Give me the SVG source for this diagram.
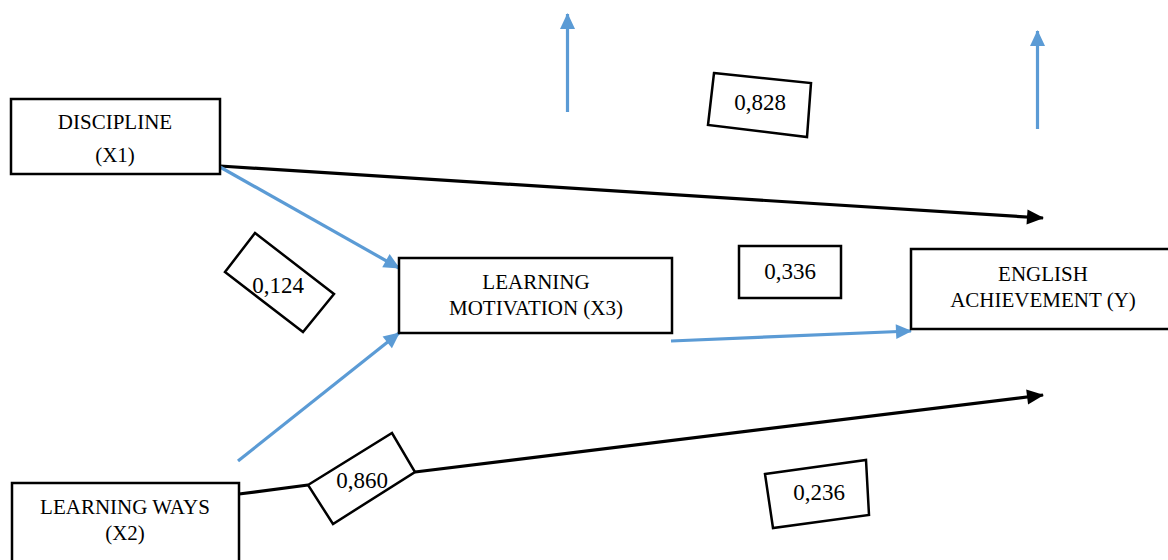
<svg xmlns="http://www.w3.org/2000/svg" width="1168" height="560" viewBox="0 0 1168 560">
<defs>
<marker id="ab" markerUnits="userSpaceOnUse" markerWidth="17" markerHeight="16" refX="15" refY="7.5" orient="auto" overflow="visible">
<path d="M0,0 L16,7.5 L0,15 z" fill="#5B9BD5"/>
</marker>
<marker id="ak" markerUnits="userSpaceOnUse" markerWidth="18" markerHeight="16" refX="16" refY="7.5" orient="auto" overflow="visible">
<path d="M0,0 L17,7.5 L0,15 z" fill="#000"/>
</marker>
</defs>
<style>
.box{fill:#fff;stroke:#000;stroke-width:2.5}
.t{font-family:"Liberation Serif","Times New Roman",serif;font-size:21px;fill:#000;text-anchor:middle}
.n{font-family:"Liberation Serif","Times New Roman",serif;font-size:23px;fill:#000;text-anchor:middle}
.bl{stroke:#5B9BD5;stroke-width:3.2;fill:none}
.bk{stroke:#000;stroke-width:3.2;fill:none}
</style>
<rect width="1168" height="560" fill="#fff"/>
<g id="connectors">
<line class="bk" x1="220" y1="166" x2="1043" y2="218" marker-end="url(#ak)"/>
<line class="bl" x1="220" y1="167" x2="399" y2="268" marker-end="url(#ab)"/>
<line class="bl" x1="238" y1="461" x2="399" y2="333" marker-end="url(#ab)"/>
<line class="bl" x1="671" y1="341" x2="911" y2="331" marker-end="url(#ab)"/>
<line class="bl" x1="567.5" y1="112" x2="567.5" y2="14" marker-end="url(#ab)"/>
<line class="bl" x1="1037.5" y1="129" x2="1037.5" y2="31" marker-end="url(#ab)"/>
<polyline class="bk" points="239,494 308,485"/>
<line class="bk" x1="415" y1="472" x2="1043" y2="395" marker-end="url(#ak)"/>
</g>
<g id="node-discipline">
<rect class="box" x="11" y="99" width="209" height="75"/>
<text class="t" x="115" y="129">DISCIPLINE</text>
<text class="t" x="115" y="162">(X1)</text>
</g>
<g id="node-motivation">
<rect class="box" x="399" y="258" width="273" height="75"/>
<text class="t" x="536" y="289">LEARNING</text>
<text class="t" x="536" y="315">MOTIVATION (X3)</text>
</g>
<g id="node-english">
<rect class="box" x="911" y="249" width="264" height="80"/>
<text class="t" x="1043" y="281">ENGLISH</text>
<text class="t" x="1043" y="307">ACHIEVEMENT (Y)</text>
</g>
<g id="node-ways">
<rect class="box" x="12" y="483" width="227" height="90"/>
<text class="t" x="125" y="514">LEARNING WAYS</text>
<text class="t" x="125" y="540">(X2)</text>
</g>
<g id="label-0124">
<polygon class="box" points="255,233 334,294 303,332 225,272"/>
<text class="n" x="278" y="293">0,124</text>
</g>
<g id="label-0860">
<polygon class="box" points="308,485 392,433 415,472 333,524"/>
<text class="n" x="362" y="488">0,860</text>
</g>
<g id="label-0828">
<polygon class="box" points="714,73 811,83 807,137 708,125"/>
<text class="n" x="760" y="110">0,828</text>
</g>
<g id="label-0336">
<rect class="box" x="739" y="246" width="102" height="52"/>
<text class="n" x="790" y="279">0,336</text>
</g>
<g id="label-0236">
<polygon class="box" points="765,474 866,460 869,515 773,528"/>
<text class="n" x="819" y="500">0,236</text>
</g>
</svg>
